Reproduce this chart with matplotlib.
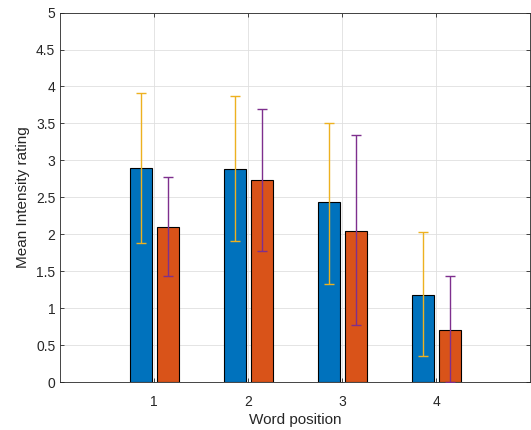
import numpy as np
import matplotlib

matplotlib.use("Agg")
import matplotlib.pyplot as plt

plt.rcParams["font.family"] = ["Liberation Sans", "DejaVu Sans"]

# mean intensity rating per word position, two conditions
positions = [1, 2, 3, 4]
mean_a = [2.90, 2.88, 2.43, 1.18]
upper_a = [3.91, 3.87, 3.51, 2.03]
lower_a = [1.88, 1.91, 1.33, 0.35]
mean_b = [2.10, 2.73, 2.04, 0.71]
upper_b = [2.77, 3.69, 3.34, 1.44]
lower_b = [1.43, 1.77, 0.77, 0.00]

BLUE = "#0072BD"
ORANGE = "#D95319"
YELLOW = "#EDB120"
PURPLE = "#7E2F8E"
AXC = "#262626"

x = np.array(positions, dtype=float)
off = 0.142
w = 0.235

fig = plt.figure(figsize=(5.31, 4.30), dpi=100)
ax = fig.add_axes([0.1134, 0.1116, 0.8856, 0.8591])

ax.bar(x - off, mean_a, w, color=BLUE, edgecolor="black", lw=0.8, zorder=2)
ax.bar(x + off, mean_b, w, color=ORANGE, edgecolor="black", lw=0.8, zorder=2)

ma, mb = np.array(mean_a), np.array(mean_b)
err_a = [ma - np.array(lower_a), np.array(upper_a) - ma]
err_b = [mb - np.array(lower_b), np.array(upper_b) - mb]
ax.errorbar(x - off, ma, yerr=err_a, fmt="none", ecolor=YELLOW, elinewidth=1.0,
            capsize=3.6, capthick=1.0, zorder=3)
ax.errorbar(x + off, mb, yerr=err_b, fmt="none", ecolor=PURPLE, elinewidth=1.0,
            capsize=3.6, capthick=1.0, zorder=3)

ax.set_xlim(0, 5)
ax.set_ylim(0, 5)
ax.set_xticks(positions)
ax.set_yticks(np.arange(0, 5.01, 0.5))
ax.set_yticklabels(["0", "0.5", "1", "1.5", "2", "2.5", "3", "3.5", "4", "4.5", "5"])
ax.grid(True, color="#dfdfdf", lw=0.6, zorder=0)
ax.set_axisbelow(True)
ax.tick_params(direction="in", length=3, width=0.6, colors=AXC, labelsize=10,
               top=True, right=True, labeltop=False, labelright=False)
ax.tick_params(axis="x", pad=9)
for s in ax.spines.values():
    s.set_color(AXC)
    s.set_linewidth(0.6)
ax.set_xlabel("Word position", fontsize=11, color=AXC, labelpad=3)
ax.set_ylabel("Mean Intensity rating", fontsize=11, color=AXC)

fig.savefig("out.png", dpi=100)
